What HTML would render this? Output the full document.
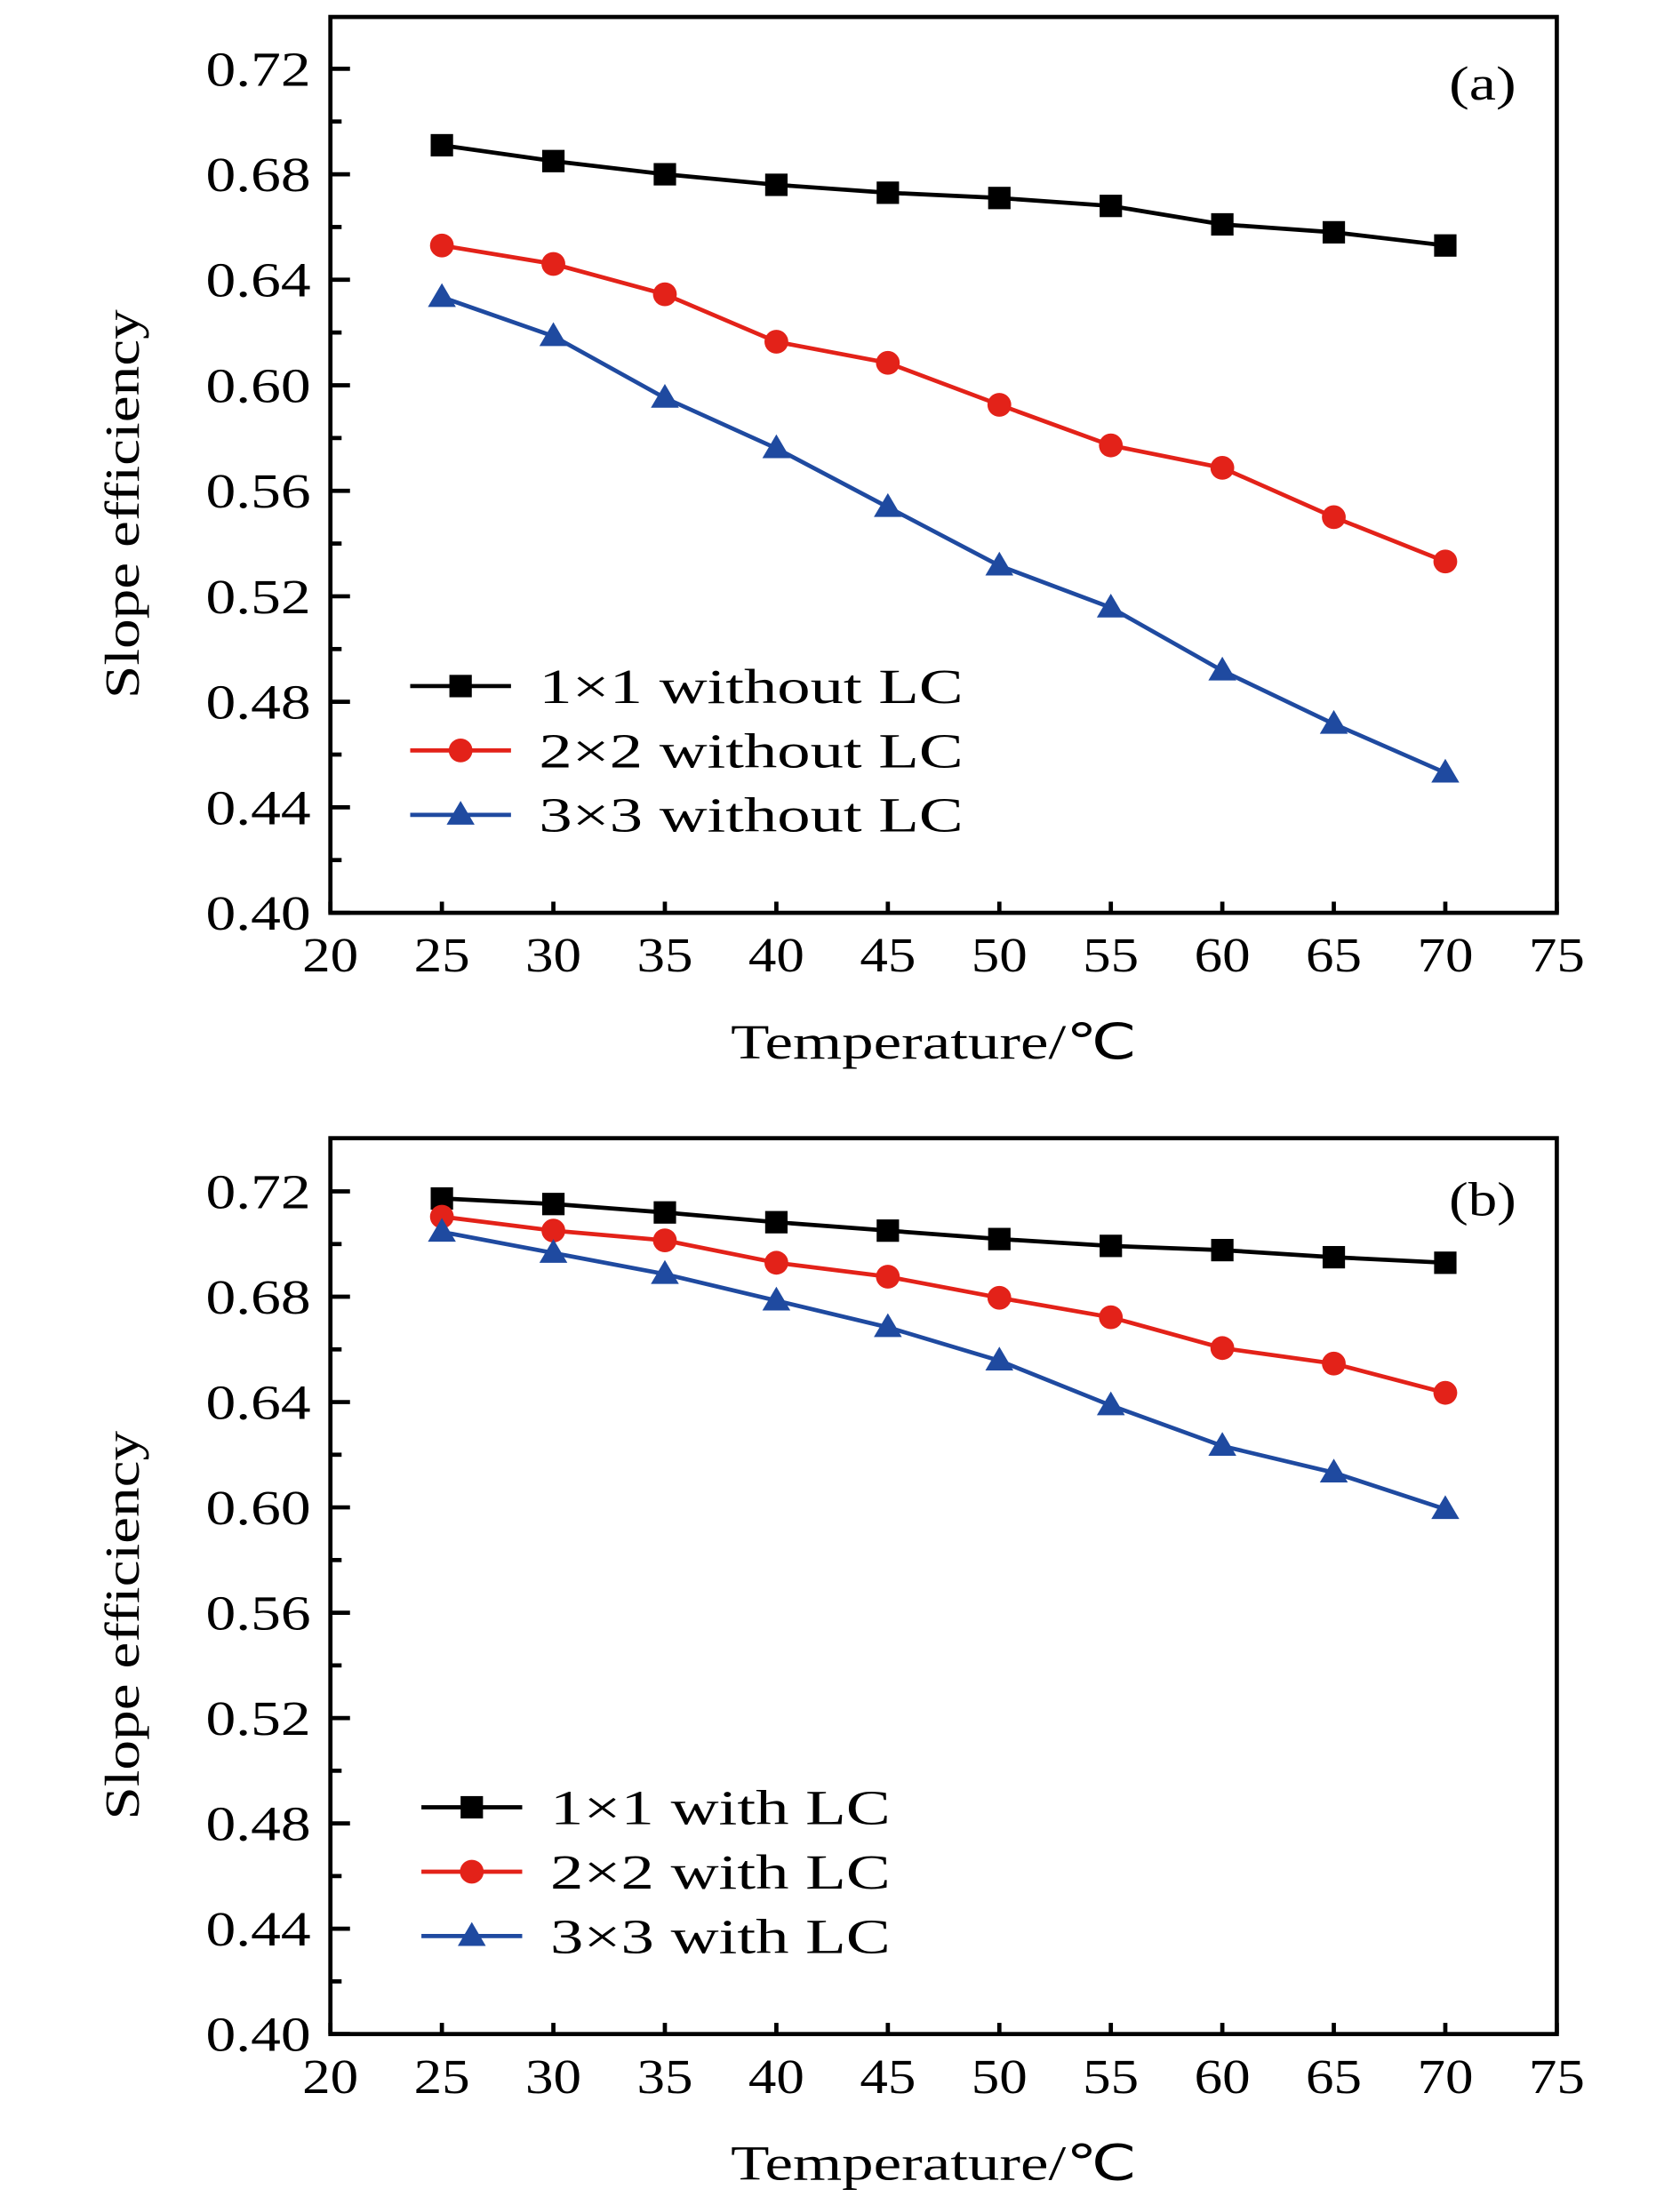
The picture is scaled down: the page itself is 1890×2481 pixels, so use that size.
<!DOCTYPE html>
<html><head><meta charset="utf-8"><style>
html,body{margin:0;padding:0;background:#fff}
svg{display:block}
text{font-family:"Liberation Serif",serif;fill:#000}
</style></head><body>
<svg id="chart" width="1890" height="2481" viewBox="0 0 1200 1575" xmlns="http://www.w3.org/2000/svg"></svg>
<script>
const temps=[25,30,35,40,45,50,55,60,65,70];
const xTicks=[20,25,30,35,40,45,50,55,60,65,70,75];
const yTicks=[0.40,0.44,0.48,0.52,0.56,0.60,0.64,0.68,0.72];
const aBlack=[0.691,0.685,0.680,0.676,0.673,0.671,0.668,0.661,0.658,0.653];
const aRed=[0.653,0.646,0.6345,0.6165,0.6085,0.5926,0.5772,0.5687,0.550,0.5332];
const aBlue=[0.6334,0.6186,0.5952,0.5761,0.5538,0.5316,0.5157,0.4918,0.4716,0.4531];
const bBlack=[0.7173,0.7152,0.712,0.7083,0.7051,0.7019,0.6993,0.6977,0.695,0.6929];
const bRed=[0.7104,0.7051,0.7014,0.6929,0.6876,0.6796,0.6722,0.6605,0.6546,0.6435];
const bBlue=[0.7046,0.6966,0.6886,0.6785,0.6684,0.6557,0.6387,0.6233,0.6132,0.5993];
const aLabels=["1\u00d71 without LC","2\u00d72 without LC","3\u00d73 without LC"];
const bLabels=["1\u00d71 with LC","2\u00d72 with LC","3\u00d73 with LC"];
const colors=["#000000","#e32219","#1f4aa0"];
const markers=["square","circle","triangle"];
const NS="http://www.w3.org/2000/svg";
const svg=document.getElementById('chart');
function mk(tag,attrs,parent){const e=document.createElementNS(NS,tag);for(const k in attrs)e.setAttribute(k,attrs[k]);(parent||svg).appendChild(e);return e;}
function marker(g,type,x,y,c){
  let m;
  if(type==="square")m=mk('rect',{x:x-8,y:y-8,width:16,height:16,fill:c},g);
  else if(type==="circle")m=mk('circle',{cx:x,cy:y,r:8.5,fill:c},g);
  else m=mk('polygon',{points:`${x},${y-10} ${x+10},${y+7} ${x-10},${y+7}`,fill:c},g);
  
  
}
function panel(id,top,bottom,y40,y72,series,labels,legX,legY,legW,tag,tagY){
  const L=236,R=1112;
  const xs=v=>L+(v-20)/55*(R-L);
  const ys=v=>y40-(v-0.40)/0.32*(y40-y72);
  const g=mk('g',{});
  
  
  const frame=mk('rect',{x:L,y:top,width:R-L,height:bottom-top,fill:'none',stroke:'#000','stroke-width':3},g);
  
  
  yTicks.forEach((t,i)=>{
    const y=ys(t);
    mk('line',{x1:L,x2:L+14,y1:y,y2:y,stroke:'#000','stroke-width':3},g);
    if(i<yTicks.length-1){const ym=ys(t+0.02);mk('line',{x1:L,x2:L+8,y1:ym,y2:ym,stroke:'#000','stroke-width':3},g);}
    const tx=mk('text',{x:147,y:y+12,'font-size':35,textLength:75,lengthAdjust:'spacingAndGlyphs'},g);
    tx.textContent=t.toFixed(2);
    
    
  });
  xTicks.forEach(t=>{
    const x=xs(t);
    mk('line',{x1:x,x2:x,y1:bottom,y2:bottom-8,stroke:'#000','stroke-width':3},g);
    const tx=mk('text',{x:x-20,y:bottom+42,'font-size':35,textLength:40,lengthAdjust:'spacingAndGlyphs'},g);
    tx.textContent=t;
    
    
  });
  const cy=(top+bottom)/2+28;
  const yt=mk('text',{x:-139,y:0,'font-size':35,textLength:278,lengthAdjust:'spacingAndGlyphs',transform:`translate(99,${cy}) rotate(-90)`},g);
  yt.textContent='Slope efficiency';
  
  
  const xt=mk('text',{x:522,y:bottom+104,'font-size':35,textLength:290,lengthAdjust:'spacingAndGlyphs'},g);
  xt.textContent='Temperature/\u2103';
  
  
  const pt=mk('text',{x:1035,y:tagY,'font-size':34,textLength:48,lengthAdjust:'spacingAndGlyphs'},g);
  pt.textContent=tag;
  
  
  series.forEach((vals,si)=>{
    const sg=mk('g',{},g);
    
    
    const pts=vals.map((v,i)=>xs(temps[i])+','+ys(v)).join(' ');
    const pl=mk('polyline',{points:pts,fill:'none',stroke:colors[si],'stroke-width':3},sg);
    
    
    vals.forEach((v,i)=>marker(sg,markers[si],xs(temps[i]),ys(v),colors[si]));
    const ly=legY+si*46;
    const lg=mk('g',{},g);
    
    
    mk('line',{x1:legX,x2:legX+72,y1:ly,y2:ly,stroke:colors[si],'stroke-width':3},lg);
    marker(lg,markers[si],legX+36,ly,colors[si]);
    const lt=mk('text',{x:legX+92,y:ly+12,'font-size':35,textLength:legW,lengthAdjust:'spacingAndGlyphs'},lg);
    lt.textContent=labels[si];
  });
}
panel('a',12,652,652,49,[aBlack,aRed,aBlue],aLabels,293,490,303,'(a)',71);
panel('b',813,1453,1453,851,[bBlack,bRed,bBlue],bLabels,301,1291,243,'(b)',868);
</script>
</body></html>
